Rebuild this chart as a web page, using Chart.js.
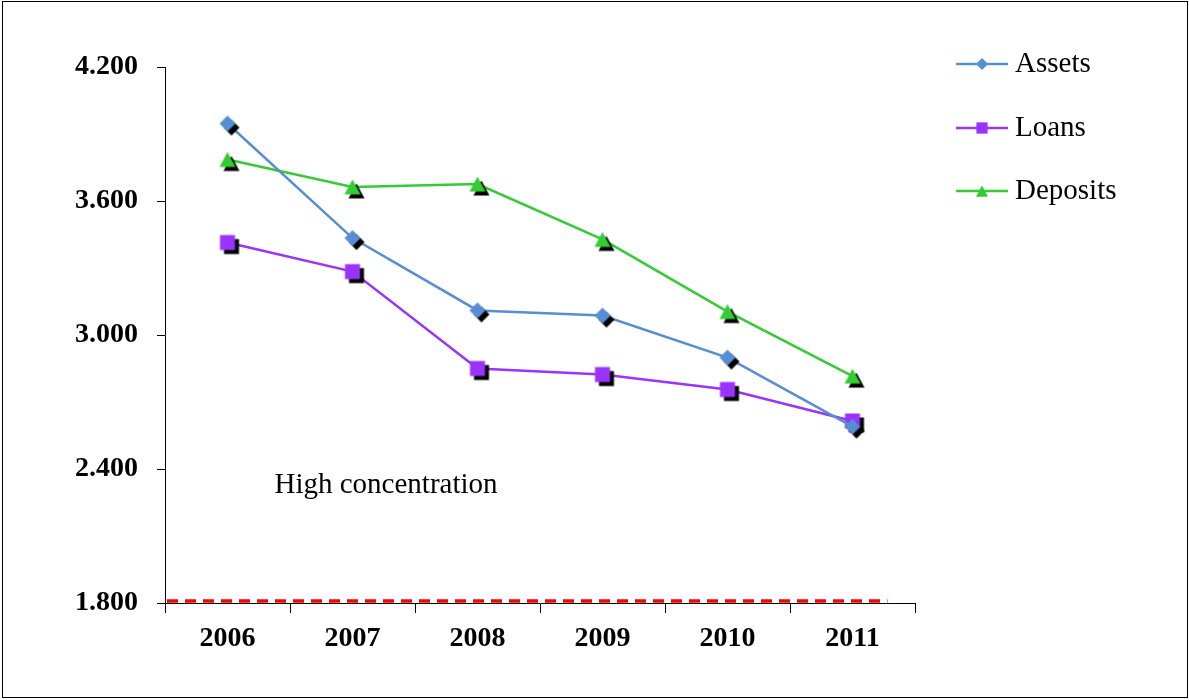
<!DOCTYPE html>
<html>
<head>
<meta charset="utf-8">
<title>Concentration index 2006–2011</title>
<script src="https://cdn.jsdelivr.net/npm/chart.js@4.4.1/dist/chart.umd.min.js"></script>
<style>
  html, body { margin: 0; padding: 0; background: #fff; }
  #wrap { position: relative; width: 1189px; height: 700px; }
  #frame { position: absolute; left: 2px; top: 1px; width: 1184px; height: 695px;
           border: 1.5px solid #000; pointer-events: none; }
  canvas { position: absolute; left: 0; top: 0; }
</style>
</head>
<body>
<div id="wrap">
  <canvas id="chart" width="1189" height="700"></canvas>
  <div id="frame"></div>
</div>
<script>
// Categories and series
const years = ['2006', '2007', '2008', '2009', '2010', '2011'];
const assets = [3.947, 3.434, 3.110, 3.087, 2.899, 2.590];
const loans = [3.414, 3.284, 2.850, 2.823, 2.756, 2.615];
const deposits = [3.786, 3.663, 3.676, 3.428, 3.105, 2.816];
const thresholdValue = 1.8;
const thresholdLabel = 'High concentration';
const yTicks = [1.8, 2.4, 3.0, 3.6, 4.2];

const seriesNames = ['Assets', 'Loans', 'Deposits'];
const seriesColors = ['#558ED5', '#9933FF', '#33CC33'];
const seriesShapes = ['diamond', 'square', 'triangle'];

const serif = '"Liberation Serif", "DejaVu Serif", serif';

function shapePath(ctx, shape, cx, cy) {
  ctx.beginPath();
  if (shape === 'diamond') {
    const r = 8;
    ctx.moveTo(cx, cy - r); ctx.lineTo(cx + r, cy);
    ctx.lineTo(cx, cy + r); ctx.lineTo(cx - r, cy);
  } else if (shape === 'square') {
    const h = 7.5;
    ctx.rect(cx - h, cy - h, 2 * h, 2 * h);
  } else {
    const w = 8, h = 7.5;
    ctx.moveTo(cx, cy - h); ctx.lineTo(cx + w, cy + h); ctx.lineTo(cx - w, cy + h);
  }
  ctx.closePath();
}

// Marker sprite: a black drop shadow offset down-right, the coloured shape on top
function makeMarker(shape, color, withShadow) {
  const c = document.createElement('canvas');
  const s = 36;
  c.width = s; c.height = s;
  const ctx = c.getContext('2d');
  const m = s / 2;
  if (withShadow) {
    ctx.save();
    ctx.filter = 'blur(0.6px)';
    ctx.fillStyle = '#000';
    shapePath(ctx, shape, m + 4, m + 4);
    ctx.fill();
    ctx.restore();
  }
  ctx.fillStyle = color;
  shapePath(ctx, shape, m, m);
  ctx.fill();
  return c;
}

const markers = seriesShapes.map((sh, i) => makeMarker(sh, seriesColors[i], true));

const datasets = [assets, loans, deposits].map((vals, i) => ({
  label: seriesNames[i],
  data: vals,
  borderColor: seriesColors[i],
  backgroundColor: seriesColors[i],
  borderWidth: 2.5,
  pointStyle: markers[i],
  pointRadius: 8,
  tension: 0,
  order: i
}));

// Red dashed threshold line and its caption
const thresholdPlugin = {
  id: 'threshold',
  beforeDatasetsDraw(chart) {
    const { ctx, scales: { x, y } } = chart;
    const py = y.getPixelForValue(thresholdValue) - 2;
    const x0 = chart.chartArea.left + 2;
    const x1 = x.getPixelForValue(years.length - 1) + 35;
    ctx.save();
    ctx.strokeStyle = '#FF0000';
    ctx.lineWidth = 3.5;
    ctx.setLineDash([11, 7]);
    ctx.beginPath();
    ctx.moveTo(x0, py); ctx.lineTo(x1, py);
    ctx.stroke();
    ctx.restore();

    ctx.save();
    ctx.fillStyle = '#000';
    ctx.font = '29px ' + serif;
    ctx.textAlign = 'left';
    ctx.textBaseline = 'middle';
    ctx.fillText(thresholdLabel, x.getPixelForValue(0) + 47, y.getPixelForValue(2.325));
    ctx.restore();
  }
};

// Legend on the right: line segment with marker, then the series name
const legendPlugin = {
  id: 'sideLegend',
  afterDraw(chart) {
    const { ctx } = chart;
    const rows = [64, 128, 191];
    ctx.save();
    seriesNames.forEach((name, i) => {
      const yy = rows[i];
      ctx.strokeStyle = seriesColors[i];
      ctx.lineWidth = 2.5;
      ctx.beginPath();
      ctx.moveTo(956, yy); ctx.lineTo(1008, yy);
      ctx.stroke();
      ctx.fillStyle = seriesColors[i];
      ctx.save();
      ctx.translate(982, yy);
      ctx.scale(0.75, 0.75);
      shapePath(ctx, seriesShapes[i], 0, 0);
      ctx.fill();
      ctx.restore();
      ctx.fillStyle = '#000';
      ctx.font = '29px ' + serif;
      ctx.textAlign = 'left';
      ctx.textBaseline = 'middle';
      ctx.fillText(name, 1015, yy);
    });
    ctx.restore();
  }
};

new Chart(document.getElementById('chart'), {
  type: 'line',
  data: { labels: years, datasets },
  options: {
    responsive: false,
    animation: false,
    events: [],
    layout: { padding: { left: 0, top: 67, right: 274, bottom: 0 } },
    plugins: {
      legend: { display: false },
      tooltip: { enabled: false },
      title: { display: false }
    },
    scales: {
      x: {
        offset: true,
        grid: {
          offset: true,
          drawOnChartArea: false,
          drawTicks: true,
          tickLength: 10,
          color: '#000',
          lineWidth: 1
        },
        border: { display: true, color: '#000', width: 1 },
        ticks: {
          color: '#000',
          font: { family: serif, size: 28, weight: 'bold' },
          padding: 9,
          maxRotation: 0
        },
        afterFit(scale) { scale.height = 97; }
      },
      y: {
        min: 1.8,
        max: 4.2,
        afterBuildTicks(scale) { scale.ticks = yTicks.map(v => ({ value: v })); },
        grid: {
          drawOnChartArea: false,
          drawTicks: true,
          tickLength: 8,
          color: '#000',
          lineWidth: 1
        },
        border: { display: true, color: '#000', width: 1 },
        ticks: {
          color: '#000',
          font: { family: serif, size: 28, weight: 'bold' },
          padding: 19,
          callback: v => Number(v).toFixed(3)
        },
        afterFit(scale) { scale.width = 165; }
      }
    }
  },
  plugins: [thresholdPlugin, legendPlugin]
});
</script>
</body>
</html>
